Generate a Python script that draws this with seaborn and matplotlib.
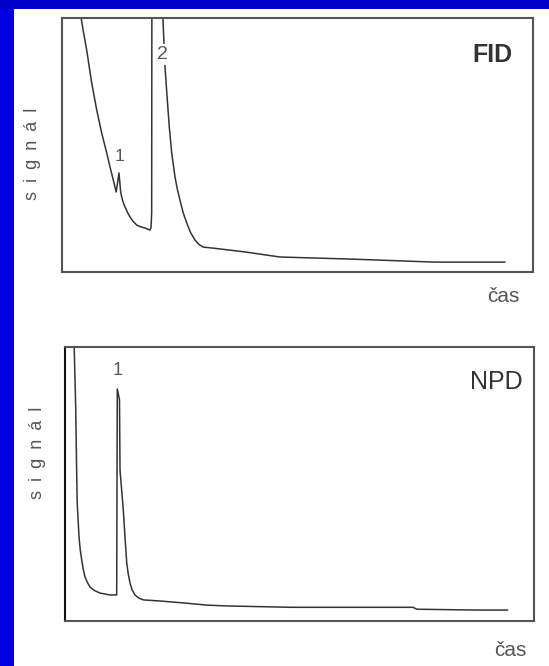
import matplotlib
matplotlib.use("Agg")
import matplotlib.pyplot as plt
import seaborn as sns
import pandas as pd
from matplotlib.patches import Rectangle

# ---- data (arbitrary units 0-100) ----
fid_time = [3.8, 4.5, 5.24, 6.31, 7.37, 8.43, 9.49, 10.2, 10.89, 11.5, 12.1, 12.45, 12.68,
            13.0, 13.38, 13.9, 14.44, 15.1, 15.86, 16.7, 17.62, 18.3, 18.68, 18.9, 19.04,
            19.1, 21.44, 21.44, 21.87, 22.36, 22.78, 23.29, 23.99, 24.5, 25.05, 25.7,
            26.48, 27.3, 28.24, 29.1, 30.0, 32.06, 38.85, 46.28, 53.7, 61.1, 79.0, 94.06]
fid_signal = [103.1, 95.0, 87.4, 74.4, 63.8, 54.7, 46.9, 41.3, 36.2, 31.5, 39.0, 31.5, 29.5,
              27.4, 25.6, 23.5, 21.7, 19.9, 18.5, 17.8, 17.3, 16.8, 16.5, 17.5, 23.2,
              146.0, 146.0, 99.2, 80.7, 67.7, 57.1, 46.9, 37.4, 32.5, 28.3, 23.5,
              19.3, 15.5, 12.6, 10.8, 9.8, 9.4, 7.9, 5.9, 5.5, 5.1, 3.9, 3.9]

npd_time = [1.92, 2.28, 2.49, 2.6, 2.99, 3.25, 3.56, 3.9, 4.26, 4.8, 5.33, 6.3, 7.46, 9.59,
            11.02, 11.15, 11.62, 11.73, 12.43, 12.79, 13.16, 13.5, 13.86, 14.3, 14.93,
            15.7, 16.7, 20.26, 25.22, 30.19, 34.48, 48.1, 74.2, 75.0, 87.6, 94.4]
npd_signal = [102.6, 78.1, 54.0, 43.1, 30.7, 26.0, 22.3, 18.8, 16.1, 14.0, 12.4, 11.1,
              10.2, 9.5, 9.5, 84.7, 80.7, 55.1, 40.5, 30.7, 21.2, 17.0, 13.9, 11.4,
              9.5, 8.4, 7.7, 7.3, 6.6, 5.8, 5.5, 5.0, 5.0, 4.3, 4.0, 4.0]

fid_peak_labels = ["1", "2"]
fid_peak_time = [12.31, 21.34]
fid_peak_signal = [45.5, 85.6]

npd_peak_labels = ["1"]
npd_peak_time = [11.19]
npd_peak_signal = [91.6]

detectors = ["FID", "NPD"]
y_label = "s\u2002i\u2002g\u2002n\u2002á\u2002l"
x_label = "čas"

# ---- figure ----
sns.set_style("white")
plt.rcParams["font.family"] = ["Liberation Sans", "DejaVu Sans"]

W, H = 549, 666
fig = plt.figure(figsize=(W / 100, H / 100), dpi=100)
fig.patch.set_facecolor("white")

# slide background strips
fig.patches.append(Rectangle((0, 0), 14 / W, 1, transform=fig.transFigure,
                             facecolor="#0000e0", edgecolor="none", zorder=0))
fig.patches.append(Rectangle((0, 1 - 9 / H), 1, 9 / H, transform=fig.transFigure,
                             facecolor="#0000c8", edgecolor="none", zorder=0))

ax1 = fig.add_axes([62 / W, 1 - 272 / H, 471 / W, 254 / H])
ax2 = fig.add_axes([65 / W, 1 - 621 / H, 469 / W, 274 / H])

line_color = "#333333"
text_color = "#555555"

df_fid = pd.DataFrame({"t": fid_time, "s": fid_signal})
df_npd = pd.DataFrame({"t": npd_time, "s": npd_signal})

sns.lineplot(data=df_fid, x="t", y="s", ax=ax1, sort=False, estimator=None,
             color=line_color, linewidth=1.1)
sns.lineplot(data=df_npd, x="t", y="s", ax=ax2, sort=False, estimator=None,
             color=line_color, linewidth=1.1)

for ax in (ax1, ax2):
    ax.set_xlim(0, 100)
    ax.set_ylim(0, 100)
    ax.set_xticks([])
    ax.set_yticks([])
    ax.set_xlabel("")
    ax.set_ylabel("")
    for sp in ax.spines.values():
        sp.set_visible(True)
        sp.set_color("#555555")
        sp.set_linewidth(1.5)
    ax.set_facecolor("white")

ax2.spines["left"].set_color("#111111")

# peak labels
fid_sizes = [12.5, 14]
for lab, t, s, fs in zip(fid_peak_labels, fid_peak_time, fid_peak_signal, fid_sizes):
    ax1.text(t, s, lab, ha="center", va="center", fontsize=fs, color=text_color,
             bbox=dict(facecolor="white", edgecolor="none", pad=1.5), zorder=5)
for lab, t, s in zip(npd_peak_labels, npd_peak_time, npd_peak_signal):
    ax2.text(t, s, lab, ha="center", va="center", fontsize=13, color=text_color,
             zorder=5)

# detector names
ax1.text(91.3, 85.4, detectors[0], ha="center", va="center", fontsize=18,
         fontweight="bold", color="#333333")
ax2.text(91.9, 87.2, detectors[1], ha="center", va="center", fontsize=18,
         color="#333333")

# axis captions
ax1.text(0.936, -0.0945, x_label, transform=ax1.transAxes, ha="center", va="center",
         fontsize=15, color=text_color)
ax2.text(0.949, -0.106, x_label, transform=ax2.transAxes, ha="center", va="center",
         fontsize=15, color=text_color)
ax1.text(-0.0616, 0.4646, y_label, transform=ax1.transAxes, ha="center", va="center",
         rotation=90, fontsize=13, color=text_color)
ax2.text(-0.0597, 0.613, y_label, transform=ax2.transAxes, ha="center", va="center",
         rotation=90, fontsize=13, color=text_color)

fig.savefig("out.png", dpi=100, facecolor=fig.get_facecolor())
